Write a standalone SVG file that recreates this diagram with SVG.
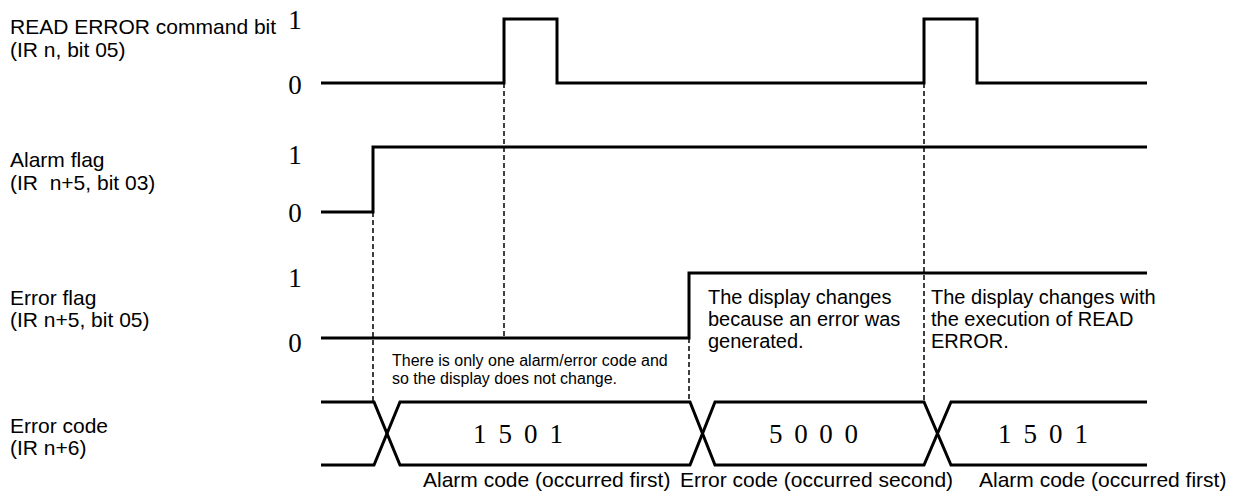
<svg xmlns="http://www.w3.org/2000/svg" width="1239" height="491" viewBox="0 0 1239 491">
<style>
.lbl{font-family:"Liberation Sans",Arial,sans-serif;font-size:21px;fill:#000}
.note{font-family:"Liberation Sans",Arial,sans-serif;font-size:20px;fill:#000}
.sm{font-family:"Liberation Sans",Arial,sans-serif;font-size:16px;fill:#000}
.lv{font-family:"Liberation Serif","Times New Roman",serif;font-size:27px;fill:#000;text-anchor:middle}
.dig{font-family:"Liberation Serif","Times New Roman",serif;font-size:27px;fill:#000}
.wave{fill:none;stroke:#000;stroke-width:3;stroke-linejoin:miter}
.dash{fill:none;stroke:#000;stroke-width:1.5;stroke-dasharray:5 3}
</style>
<rect width="1239" height="491" fill="#fff"/>
<g id="read-error">
<text class="lbl" x="10" y="34">READ ERROR command bit</text>
<text class="lbl" x="10" y="57">(IR n, bit 05)</text>
<text class="lv" x="295" y="29">1</text>
<text class="lv" x="295" y="94">0</text>
<path class="wave" d="M321,83 H504 V19 H557 V83 H924 V19 H977 V83 H1147"/>
</g>
<g id="alarm-flag">
<text class="lbl" x="10" y="167">Alarm flag</text>
<text class="lbl" x="10" y="190" style="white-space:pre">(IR  n+5, bit 03)</text>
<text class="lv" x="295" y="164">1</text>
<text class="lv" x="295" y="222">0</text>
<path class="wave" d="M321,212 H373 V147 H1147"/>
</g>
<g id="error-flag">
<text class="lbl" x="10" y="305">Error flag</text>
<text class="lbl" x="10" y="327">(IR n+5, bit 05)</text>
<text class="lv" x="295" y="287">1</text>
<text class="lv" x="295" y="352">0</text>
<path class="wave" d="M321,338 H689 V273 H1147"/>
<text class="note" x="708" y="304">The display changes</text>
<text class="note" x="708" y="326">because an error was</text>
<text class="note" x="708" y="348">generated.</text>
<text class="note" x="931" y="304">The display changes with</text>
<text class="note" x="931" y="326">the execution of READ</text>
<text class="note" x="931" y="348">ERROR.</text>
<text class="sm" x="392" y="366">There is only one alarm/error code and</text>
<text class="sm" x="392" y="384">so the display does not change.</text>
</g>
<g id="error-code">
<text class="lbl" x="10" y="433">Error code</text>
<text class="lbl" x="10" y="455">(IR n+6)</text>
<path class="wave" d="M321,402 H374 L400,465 H690 L715,402 H924 L951,465 H1147"/>
<path class="wave" d="M321,465 H374 L400,402 H690 L715,465 H924 L951,402 H1147"/>
<text class="dig" x="473" y="443" textLength="90" lengthAdjust="spacing">1 5 0 1</text>
<text class="dig" x="769" y="443" textLength="89" lengthAdjust="spacing">5 0 0 0</text>
<text class="dig" x="998" y="443" textLength="90" lengthAdjust="spacing">1 5 0 1</text>
<text class="lbl" x="423" y="487">Alarm code (occurred first)</text>
<text class="lbl" x="680" y="487">Error code (occurred second)</text>
<text class="lbl" x="979" y="487">Alarm code (occurred first)</text>
</g>
<g id="connectors">
<line class="dash" x1="373" y1="212" x2="373" y2="402"/>
<line class="dash" x1="504" y1="83" x2="504" y2="338"/>
<line class="dash" x1="689" y1="338" x2="689" y2="402"/>
<line class="dash" x1="924" y1="83" x2="924" y2="402"/>
</g>
</svg>
